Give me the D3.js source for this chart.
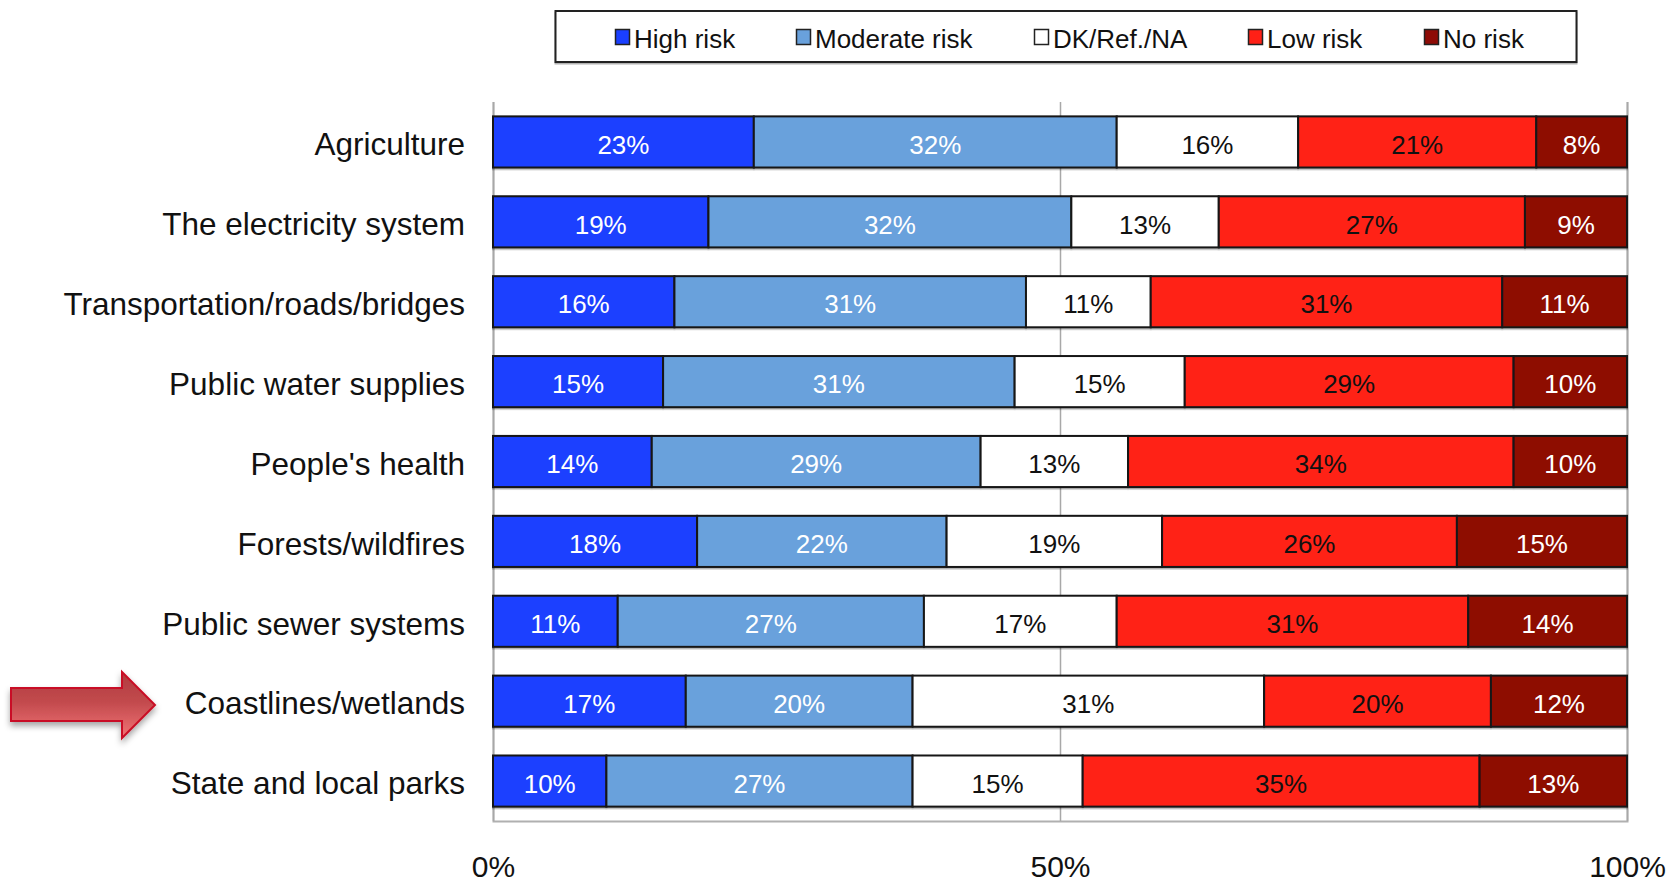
<!DOCTYPE html>
<html>
<head>
<meta charset="utf-8">
<script src="https://cdn.jsdelivr.net/npm/d3@7"></script>
<style>
  html, body { margin: 0; padding: 0; background: #fff; }
  text { font-family: "Liberation Sans", Arial, sans-serif; }
</style>
</head>
<body>
<div id="container1"></div>
<script>
const WIDTH = 1669;
const HEIGHT = 883;
const MARGIN = { TOP: 102, BOTTOM: 62, LEFT: 493, RIGHT: 42 };

const width = WIDTH - MARGIN.LEFT - MARGIN.RIGHT;
const height = HEIGHT - MARGIN.TOP - MARGIN.BOTTOM;

const categories = ['Agriculture', 'The electricity system', 'Transportation/roads/bridges',
  'Public water supplies', "People's health", 'Forests/wildfires', 'Public sewer systems',
  'Coastlines/wetlands', 'State and local parks'];

const seriesNames = ['High risk', 'Moderate risk', 'DK/Ref./NA', 'Low risk', 'No risk'];
const highRisk = [23, 19, 16, 15, 14, 18, 11, 17, 10];
const moderateRisk = [32, 32, 31, 31, 29, 22, 27, 20, 27];
const dkRefNa = [16, 13, 11, 15, 13, 19, 17, 31, 15];
const lowRisk = [21, 27, 31, 29, 34, 26, 31, 20, 35];
const noRisk = [8, 9, 11, 10, 10, 15, 14, 12, 13];

const seriesColours = ['#1a3fff', '#69a1dc', '#ffffff', '#ff2016', '#8e0b06'];
const labelColours = ['#ffffff', '#ffffff', '#111111', '#111111', '#ffffff'];
const xTicks = [0, 50, 100];

// legend swatch and text offsets along the box
const legendX = [615, 796, 1034, 1248, 1424];

// rows for d3.stack
const rows = categories.map((name, i) => ({
  name: name,
  'High risk': highRisk[i],
  'Moderate risk': moderateRisk[i],
  'DK/Ref./NA': dkRefNa[i],
  'Low risk': lowRisk[i],
  'No risk': noRisk[i]
}));

const svg = d3.select('#container1')
  .append('svg')
    .attr('width', WIDTH)
    .attr('height', HEIGHT)
    .style('display', 'block');

const defs = svg.append('defs');

const arrowFill = defs.append('linearGradient')
    .attr('id', 'arrowFill')
    .attr('x1', 0).attr('y1', 0)
    .attr('x2', 0).attr('y2', 1);
arrowFill.append('stop').attr('offset', '0%').attr('stop-color', '#b03a3e');
arrowFill.append('stop').attr('offset', '45%').attr('stop-color', '#c24a4d');
arrowFill.append('stop').attr('offset', '100%').attr('stop-color', '#f27375');

const arrowShadow = defs.append('filter')
    .attr('id', 'arrowShadow')
    .attr('x', '-10%').attr('y', '-20%')
    .attr('width', '120%').attr('height', '150%');
arrowShadow.append('feDropShadow')
    .attr('dx', 0).attr('dy', 4)
    .attr('stdDeviation', 3)
    .attr('flood-color', '#000')
    .attr('flood-opacity', 0.35);

// thin grey edge under the bars and the legend box
const edgeShadow = defs.append('filter')
    .attr('id', 'edgeShadow')
    .attr('x', '-2%').attr('y', '-5%')
    .attr('width', '104%').attr('height', '115%');
edgeShadow.append('feDropShadow')
    .attr('dx', 0).attr('dy', 1.5)
    .attr('stdDeviation', 0.6)
    .attr('flood-color', '#000')
    .attr('flood-opacity', 0.3);

const x = d3.scaleLinear().domain([0, 100]).range([0, width]);
const y = d3.scaleBand().domain(categories).range([0, height]).paddingInner(0.36).paddingOuter(0.18);

const container = svg.append('g')
    .attr('transform', `translate(${MARGIN.LEFT}, ${MARGIN.TOP})`);

//grid lines and tick labels
const xAxis = container.append('g')
    .attr('transform', `translate(0, ${height})`)
    .call(d3.axisBottom(x)
      .tickValues(xTicks)
      .tickSize(-height)
      .tickPadding(35)
      .tickFormat(d => d + '%'));
xAxis.select('.domain').attr('stroke', '#b0b0b0').attr('stroke-width', 2);
xAxis.selectAll('.tick line').attr('stroke', '#a8a8a8').attr('stroke-width', 1.5);
xAxis.selectAll('.tick text')
    .attr('font-size', 30)
    .attr('fill', '#111')
    .style('font-family', '"Liberation Sans", Arial, sans-serif');

//category labels
const yAxis = container.append('g')
    .call(d3.axisLeft(y).tickSize(0).tickPadding(28));
yAxis.select('.domain').remove();
yAxis.selectAll('.tick text')
    .attr('font-size', 31.5)
    .attr('dy', '0.42em')
    .attr('fill', '#111')
    .style('font-family', '"Liberation Sans", Arial, sans-serif');

//stacked bars
const stacked = d3.stack().keys(seriesNames)(rows);

const layers = container.append('g')
    .attr('filter', 'url(#edgeShadow)')
  .selectAll('g')
  .data(stacked)
  .enter().append('g')
    .attr('fill', (d, i) => seriesColours[i]);

layers.selectAll('rect')
  .data(d => d)
  .enter().append('rect')
    .attr('x', d => x(d[0]))
    .attr('y', d => y(d.data.name))
    .attr('width', d => x(d[1]) - x(d[0]))
    .attr('height', y.bandwidth())
    .attr('stroke', '#161616')
    .attr('stroke-width', 2);

//value labels
container.append('g')
  .selectAll('g')
  .data(stacked)
  .enter().append('g')
    .attr('fill', (d, i) => labelColours[i])
  .selectAll('text')
  .data(d => d)
  .enter().append('text')
    .attr('x', d => x((d[0] + d[1]) / 2))
    .attr('y', d => y(d.data.name) + y.bandwidth() / 2)
    .attr('dy', '0.45em')
    .attr('text-anchor', 'middle')
    .attr('font-size', 26)
    .text(d => (d[1] - d[0]) + '%');

//legend
const legend = svg.append('g');

legend.append('rect')
    .attr('x', 555.5)
    .attr('y', 11)
    .attr('width', 1021)
    .attr('height', 51)
    .attr('fill', '#fff')
    .attr('stroke', '#222')
    .attr('stroke-width', 2)
    .attr('filter', 'url(#edgeShadow)');

const legendItem = legend.selectAll('g')
  .data(seriesNames)
  .enter().append('g')
    .attr('transform', (d, i) => `translate(${legendX[i]}, 38)`);

legendItem.append('rect')
    .attr('x', 0.5)
    .attr('y', -8.5)
    .attr('width', 14)
    .attr('height', 15)
    .attr('fill', (d, i) => seriesColours[i])
    .attr('stroke', '#222')
    .attr('stroke-width', 1.5);

legendItem.append('text')
    .attr('x', 19)
    .attr('y', 0)
    .attr('dy', '0.4em')
    .attr('font-size', 26)
    .attr('fill', '#111')
    .text(d => d);

//callout arrow pointing at the coastlines row
const arrowPath = d3.path();
arrowPath.moveTo(11, 688);
arrowPath.lineTo(122, 688);
arrowPath.lineTo(122, 672);
arrowPath.lineTo(155, 705);
arrowPath.lineTo(122, 738);
arrowPath.lineTo(122, 721);
arrowPath.lineTo(11, 721);
arrowPath.closePath();

svg.append('path')
    .attr('d', arrowPath.toString())
    .attr('fill', 'url(#arrowFill)')
    .attr('stroke', '#c90f25')
    .attr('stroke-width', 2)
    .attr('filter', 'url(#arrowShadow)');
</script>
</body>
</html>
